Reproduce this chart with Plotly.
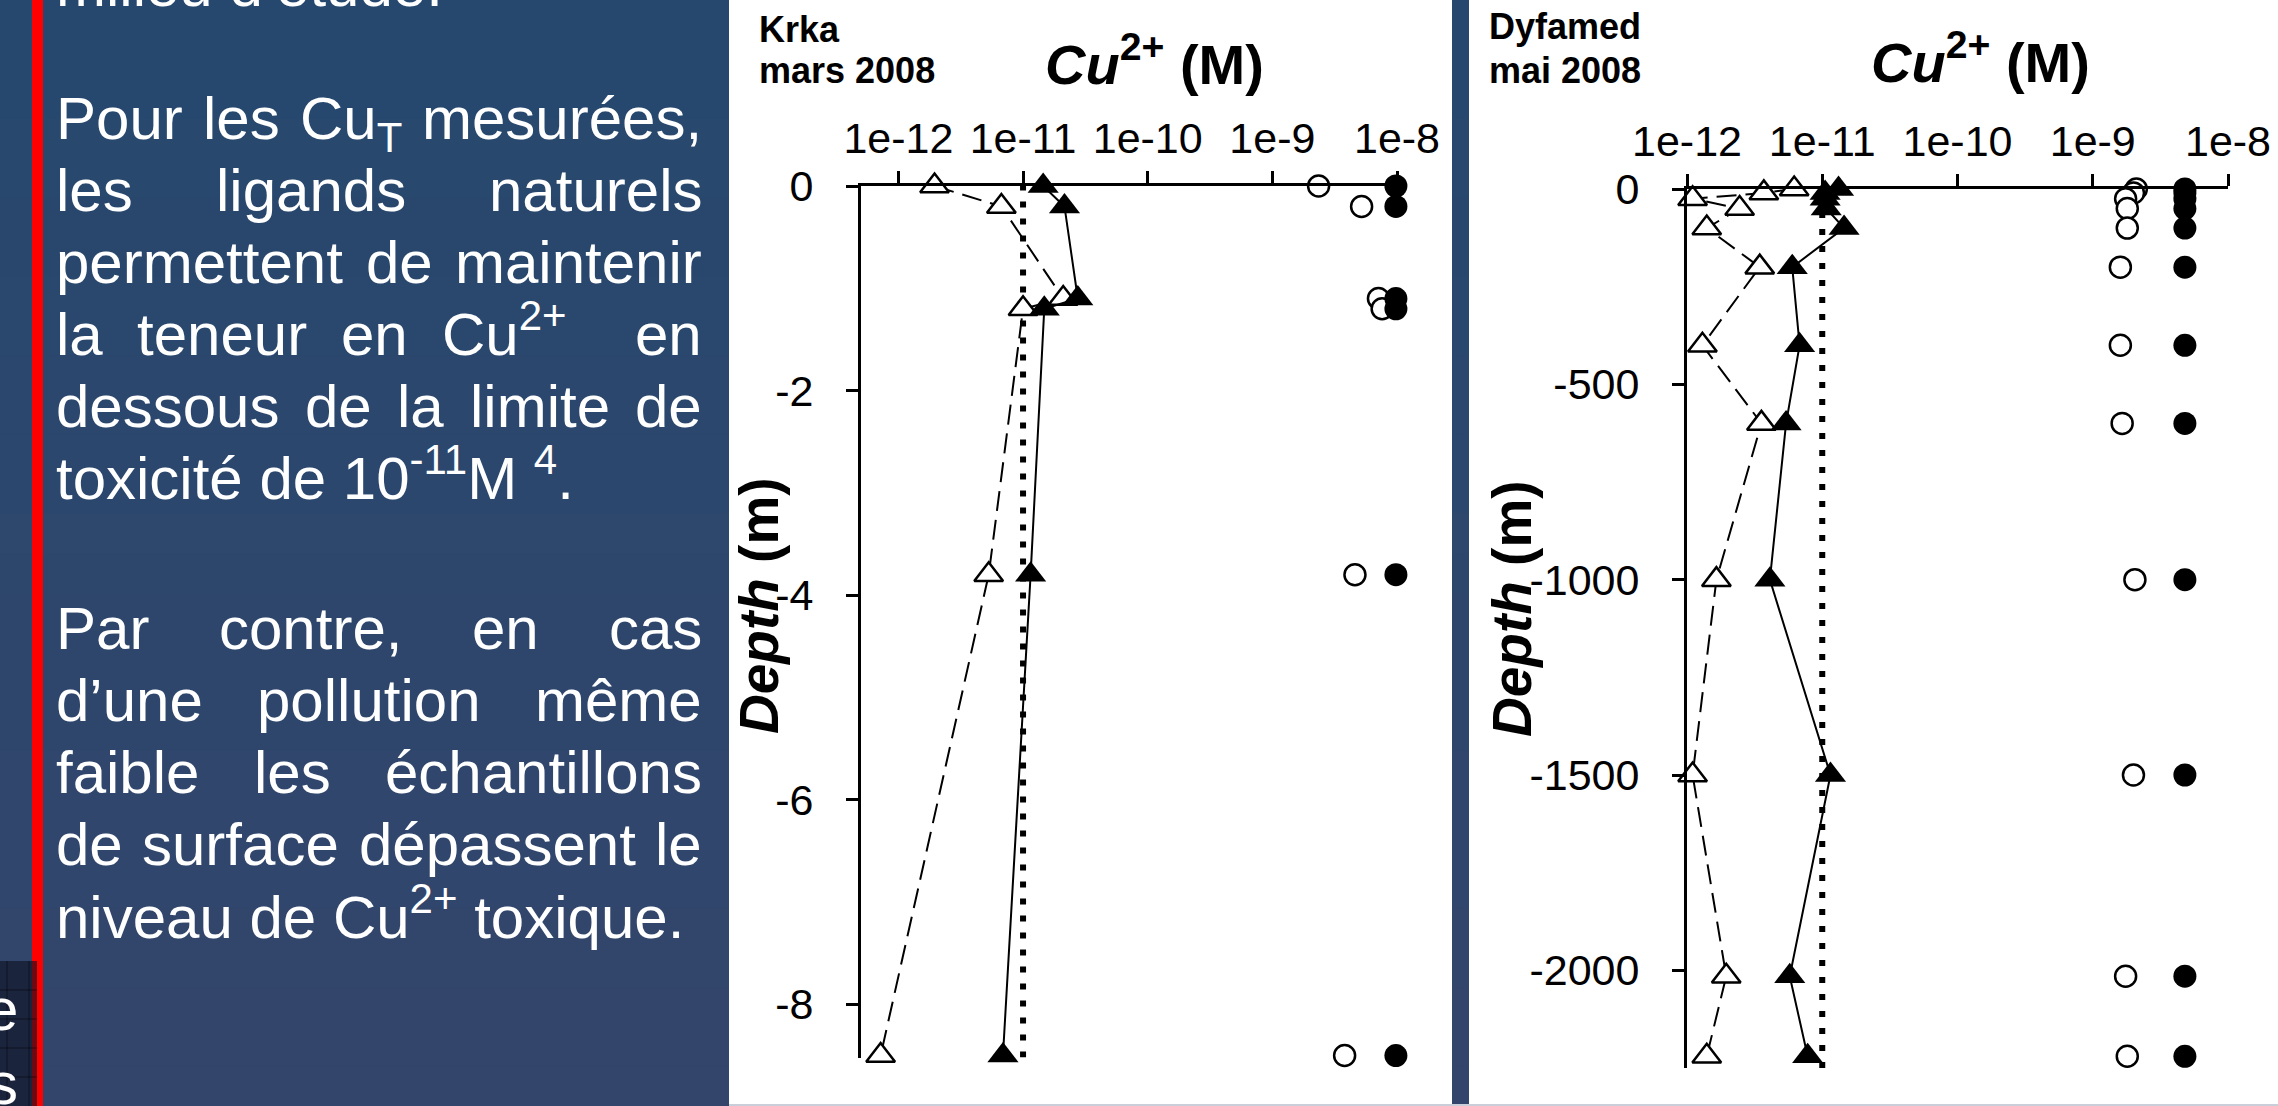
import re
import plotly.graph_objects as go

W, H = 2278, 1106

# ---------------- data ----------------
# Krka estuary, March 2008 (depth in m)
krka_depth = [0, -0.2, -1.1, -1.2, -3.8, -8.5]
krka_cu2_dashed = [1.95e-12, 6.7e-12, 2.1e-11, 1.0e-11, 5.3e-12, 7.2e-13]
krka_cu2_solid = [1.45e-11, 2.15e-11, 2.75e-11, 1.48e-11, 1.15e-11, 6.9e-12]
krka_cu_open = [2.35e-9, 5.2e-9, 7.1e-9, 7.6e-9, 4.6e-9, 3.8e-9]
krka_cu_filled = [9.8e-9, 9.8e-9, 9.8e-9, 9.8e-9, 9.8e-9, 9.8e-9]

# Dyfamed station, May 2008 (depth in m)
dyf_depth = [0, -10, -25, -50, -100, -200, -400, -600, -1000, -1500, -2015, -2220]
dyf_cu2_dashed = [6.2e-12, 3.7e-12, 1.1e-12, 2.45e-12, 1.4e-12, 3.45e-12,
                  1.3e-12, 3.55e-12, 1.65e-12, 1.1e-12, 1.95e-12, 1.4e-12]
dyf_cu2_solid = [1.32e-11, 1.05e-11, 1.05e-11, 1.07e-11, 1.45e-11, 6.0e-12,
                 6.8e-12, 5.4e-12, 4.1e-12, 1.15e-11, 5.75e-12, 7.8e-12]
dyf_cu_open = [2.1e-9, 2.0e-9, 1.75e-9, 1.8e-9, 1.8e-9, 1.6e-9,
               1.6e-9, 1.65e-9, 2.05e-9, 2.0e-9, 1.75e-9, 1.8e-9]
dyf_cu_filled = [4.8e-9, 4.8e-9, 4.8e-9, 4.8e-9, 4.8e-9, 4.8e-9,
                 4.8e-9, 4.8e-9, 4.8e-9, 4.8e-9, 4.8e-9, 4.8e-9]

toxicity_limit = 1e-11
conc_ticks = [1e-12, 1e-11, 1e-10, 1e-9, 1e-8]
conc_tick_labels = ["1e-12", "1e-11", "1e-10", "1e-9", "1e-8"]
krka_depth_ticks = [0, -2, -4, -6, -8]
dyf_depth_ticks = [0, -500, -1000, -1500, -2000]
krka_depth_range = [-8.52, 0]
dyf_depth_range = [-2250, 0]

# ---------------- text ----------------
intro_tail = "milieu d’étude."
para1 = [
    ("Pour les Cu<sub>T</sub> mesurées,", True),
    ("les ligands naturels", True),
    ("permettent de maintenir", True),
    ("la teneur en Cu<sup>2+</sup>  en", True),
    ("dessous de la limite de", True),
    ("toxicité de 10<sup>-11</sup>M <sup>4</sup>.", False),
]
para2 = [
    ("Par contre, en cas", True),
    ("d’une pollution même", True),
    ("faible les échantillons", True),
    ("de surface dépassent le", True),
    ("niveau de Cu<sup>2+</sup> toxique.", False),
]

SANS = "Liberation Sans"


def fx(px):
    return px / W


def fy(py):
    return 1 - py / H


# Arial / Liberation Sans advance widths (1/1000 em)
ADV = {" ": 278, "’": 222, "'": 191, ",": 278, "-": 333, ".": 278, "+": 584,
       "C": 722, "M": 833, "P": 667, "T": 611,
       "a": 556, "b": 556, "c": 500, "d": 556, "e": 556, "f": 278, "g": 556,
       "h": 556, "i": 222, "j": 222, "k": 500, "l": 222, "m": 833, "n": 556,
       "o": 556, "p": 556, "q": 556, "r": 333, "s": 500, "t": 278, "u": 556,
       "v": 500, "w": 722, "x": 500, "y": 500, "z": 500, "é": 556, "ê": 556}


def text_width(s, size):
    total = 0.0
    for m in re.finditer(r"<(sup|sub)>(.*?)</\1>|([^<]+)", s):
        if m.group(3):
            total += sum(ADV.get(c, 556) for c in m.group(3))
        else:
            total += 0.7 * sum(ADV.get(c, 556) for c in m.group(2))
    return total * size / 1000.0


annotations = []


def label(text, x, baseline, size, color="white", xanchor="left", family=SANS):
    if "<sub>" in text:
        y, ya = baseline - 0.905 * size, "top"
    else:
        y, ya = baseline + 0.212 * size, "bottom"
    annotations.append(dict(
        text=text, x=fx(x), y=fy(y), xref="paper", yref="paper",
        xanchor=xanchor, yanchor=ya, showarrow=False, borderpad=0, borderwidth=0,
        font=dict(family=family, size=size, color=color)))


def paragraph(lines, left, right, first_baseline, step, size):
    for i, (line, justified) in enumerate(lines):
        base = first_baseline + i * step
        if not justified:
            label(line, left, base, size)
            continue
        tokens = line.split(" ")
        widths = [text_width(t, size) for t in tokens]
        gap = (right - left - sum(widths)) / (len(tokens) - 1)
        x = left
        for j, (t, w) in enumerate(zip(tokens, widths)):
            if t:
                if j == len(tokens) - 1:
                    label(t, right, base, size, xanchor="right")
                else:
                    label(t, x, base, size)
            x += w + gap


TXT = 60
label(intro_tail, 56, 6, TXT)
paragraph(para1, 56, 702, 139, 72, TXT)
paragraph(para2, 56, 702, 649, 72.2, TXT)

# clipped table cell at the lower left
label("e", 18, 1030, TXT, xanchor="right")
label("s", 18, 1104, TXT, xanchor="right")

# chart headings
label("<b>Krka</b>", 759, 42, 36, color="black")
label("<b>mars 2008</b>", 759, 83, 36, color="black")
label("<b>Dyfamed</b>", 1489, 39, 36, color="black")
label("<b>mai 2008</b>", 1489, 83, 36, color="black")
label("<b><i>Cu</i><sup>2+</sup> (M)</b>", 1154, 84, 56, color="black", xanchor="center")
label("<b><i>Cu</i><sup>2+</sup> (M)</b>", 1980, 82, 56, color="black", xanchor="center")
for cx, cy in [(759, 606), (1512, 609)]:
    annotations.append(dict(
        text="<b><i>Depth</i> (m)</b>", x=fx(cx), y=fy(cy), xref="paper", yref="paper",
        xanchor="center", yanchor="middle", textangle=-90, showarrow=False,
        borderpad=0, borderwidth=0, font=dict(family=SANS, size=55, color="black")))

# ---------------- background shapes ----------------
shapes = []
top_rgb, bot_rgb = (38, 72, 110), (52, 69, 107)
bands = 28
for i in range(bands):
    t = i / (bands - 1)
    c = tuple(round(a + (b - a) * t) for a, b in zip(top_rgb, bot_rgb))
    shapes.append(dict(type="rect", xref="paper", yref="paper", layer="below",
                       x0=0, x1=1, y0=fy(H * (i + 1) / bands + 1), y1=fy(H * i / bands),
                       line=dict(width=0), fillcolor="rgb(%d,%d,%d)" % c))
# red accent bar
shapes.append(dict(type="rect", xref="paper", yref="paper", layer="below",
                   x0=fx(32), x1=fx(43), y0=0, y1=1, line=dict(width=0), fillcolor="#ff0000"))
# partly hidden table cell
shapes.append(dict(type="rect", xref="paper", yref="paper", layer="below",
                   x0=0, x1=fx(37), y0=0, y1=fy(961), line=dict(width=0),
                   fillcolor="rgba(10,15,30,0.6)"))
for gy in [990, 1019, 1048, 1077]:
    shapes.append(dict(type="line", xref="paper", yref="paper", layer="below",
                       x0=0, x1=fx(37), y0=fy(gy), y1=fy(gy),
                       line=dict(color="rgba(0,0,0,0.45)", width=1)))
for gx in [7, 29]:
    shapes.append(dict(type="line", xref="paper", yref="paper", layer="below",
                       x0=fx(gx), x1=fx(gx), y0=0, y1=fy(961),
                       line=dict(color="rgba(0,0,0,0.45)", width=1)))
# white chart panels
for x0, x1 in [(729, 1452), (1469, W)]:
    shapes.append(dict(type="rect", xref="paper", yref="paper", layer="below",
                       x0=fx(x0), x1=fx(x1), y0=fy(1104), y1=1,
                       line=dict(width=0), fillcolor="white"))
shapes.append(dict(type="rect", xref="paper", yref="paper", layer="below",
                   x0=fx(729), x1=1, y0=0, y1=fy(1104), line=dict(width=0),
                   fillcolor="#c9ced8"))

# ---------------- traces ----------------
fig = go.Figure()


def limit_line(depth_range, xa, ya):
    fig.add_trace(go.Scatter(
        x=[toxicity_limit, toxicity_limit], y=depth_range, xaxis=xa, yaxis=ya,
        mode="lines", line=dict(color="black", width=6, dash="6px,11px"),
        showlegend=False, hoverinfo="skip"))


def profile(x, y, xa, ya, symbol, filled, size, dash=None):
    mode = "markers" if dash is None else "lines+markers"
    marker = dict(symbol=symbol, size=size,
                  color="black" if filled else "white",
                  line=dict(color="black", width=0 if filled else 2.5))
    fig.add_trace(go.Scatter(
        x=x, y=y, xaxis=xa, yaxis=ya, mode=mode, marker=marker,
        line=dict(color="black", width=2, dash=dash if dash else "solid"),
        cliponaxis=False, showlegend=False, hoverinfo="skip"))


for xa, ya, depth, drange, cu_o, cu_f, d_open, d_fill in [
        ("x", "y", krka_depth, krka_depth_range, krka_cu_open, krka_cu_filled,
         krka_cu2_dashed, krka_cu2_solid),
        ("x2", "y2", dyf_depth, dyf_depth_range, dyf_cu_open, dyf_cu_filled,
         dyf_cu2_dashed, dyf_cu2_solid)]:
    limit_line(drange, xa, ya)
    profile(cu_o, depth, xa, ya, "circle", False, 21)
    profile(cu_f, depth, xa, ya, "circle", True, 23)
    profile(d_open, depth, xa, ya, "triangle-up", False, 25, dash="20px,9px")
    profile(d_fill, depth, xa, ya, "triangle-up", True, 27, dash="solid")

axis_style = dict(showline=True, linecolor="black", linewidth=3, ticks="outside",
                  ticklen=12, tickwidth=3, tickcolor="black", showgrid=False,
                  zeroline=False, tickfont=dict(family=SANS, size=43, color="black"),
                  fixedrange=True)

fig.update_layout(
    width=W, height=H, margin=dict(l=0, r=0, t=0, b=0, pad=0, autoexpand=False),
    paper_bgcolor="#2a4a6e", plot_bgcolor="rgba(0,0,0,0)",
    xaxis=dict(axis_style, type="log", side="top", anchor="y",
               domain=[fx(861), fx(1397)], range=[-12.3, -8.0],
               tickvals=conc_ticks, ticktext=conc_tick_labels, ticklabelstandoff=1),
    yaxis=dict(axis_style, anchor="x", domain=[fy(1057.6), fy(186)], range=krka_depth_range,
               tickvals=krka_depth_ticks, ticktext=[str(v) for v in krka_depth_ticks],
               ticklabelstandoff=24),
    xaxis2=dict(axis_style, type="log", side="top", anchor="y2",
                domain=[fx(1687), fx(2228)], range=[-12, -8],
                tickvals=conc_ticks, ticktext=conc_tick_labels, ticklabelstandoff=1),
    yaxis2=dict(axis_style, anchor="x2", domain=[fy(1068), fy(189)], range=dyf_depth_range,
                tickvals=dyf_depth_ticks, ticktext=[str(v) for v in dyf_depth_ticks],
                ticklabelstandoff=24),
    shapes=shapes, annotations=annotations,
)

fig.write_html("out.html")
